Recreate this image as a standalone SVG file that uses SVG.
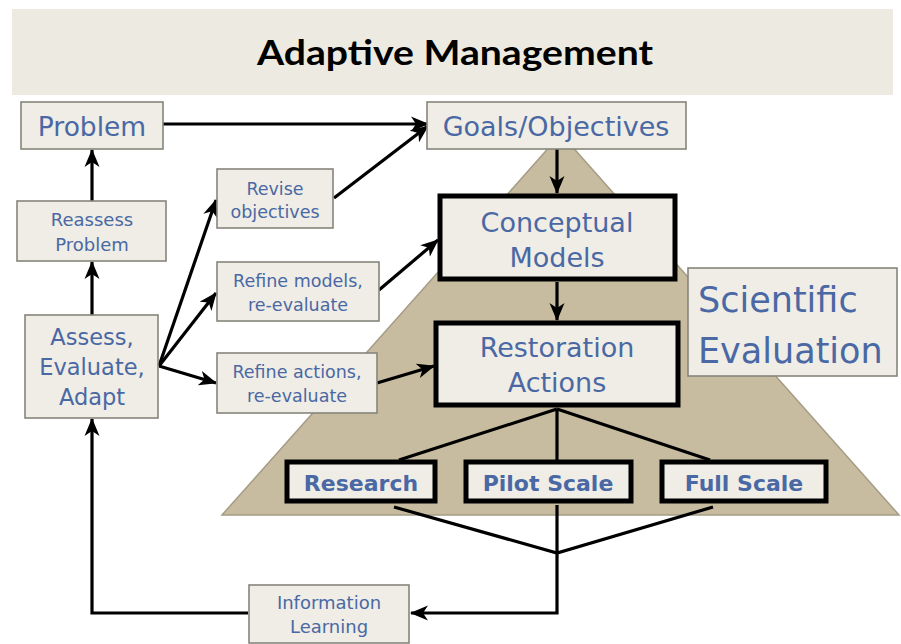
<svg xmlns="http://www.w3.org/2000/svg" width="901" height="644" viewBox="0 0 901 644">
<defs>
<marker id="ah" markerUnits="userSpaceOnUse" markerWidth="20" markerHeight="16" refX="17" refY="8" orient="auto">
<path d="M0,0.5 L18,8 L0,15.5 L5,8 z" fill="#000"/>
</marker>
<style>
.box{fill:#efede5;stroke:#85857c;stroke-width:1.6}
.tbox{fill:#efede5;stroke:#000;stroke-width:5}
.t{font-family:"DejaVu Sans",Verdana,sans-serif;fill:#4a68a4;text-anchor:middle}
.b{font-weight:bold;font-size:22px}
.c{fill:none;stroke:#000;stroke-width:3.2}
.ca{fill:none;stroke:#000;stroke-width:3.2;marker-end:url(#ah)}
</style>
</defs>
<rect width="901" height="644" fill="#ffffff"/>
<rect x="12" y="9" width="881" height="86" fill="#edeae2"/>
<text x="455" y="65" font-family="Lato,'Liberation Sans',sans-serif" font-weight="bold" font-size="35" fill="#000" text-anchor="middle" textLength="396" lengthAdjust="spacingAndGlyphs">Adaptive Management</text>
<polygon id="pyramid" points="561,134 899,515 222,515" fill="#c7bc9f" stroke="#a59c86" stroke-width="1.5"/>
<g id="connectors">
<line class="ca" x1="163" y1="124" x2="428" y2="124"/>
<line class="ca" x1="334" y1="198" x2="428" y2="126"/>
<line class="ca" x1="379" y1="290" x2="438" y2="240"/>
<line class="ca" x1="377" y1="383" x2="434" y2="366"/>
<line class="ca" x1="159" y1="366" x2="216" y2="200"/>
<line class="ca" x1="159" y1="366" x2="216" y2="293"/>
<line class="ca" x1="159" y1="366" x2="216" y2="383"/>
<line class="ca" x1="92" y1="201" x2="92" y2="150"/>
<line class="ca" x1="92" y1="315" x2="92" y2="262"/>
<line class="ca" x1="557" y1="149" x2="557" y2="193"/>
<line class="ca" x1="557" y1="282" x2="557" y2="320"/>
<path class="c" d="M557,409 L399,460 M557,409 L557,460 M557,409 L710,460"/>
<path class="c" d="M394,507 L557,553 L713,507 M557,505 L557,553"/>
<path class="ca" d="M557,553 L557,613 L411,613"/>
<path class="ca" d="M248,613 L92,613 L92,419"/>
</g>
<g id="problem"><rect class="box" x="21" y="102" width="142" height="47"/><text class="t" x="92" y="136" font-size="26.5">Problem</text></g>
<g id="goals"><rect class="box" x="427" y="102" width="259" height="47"/><text class="t" x="556" y="136" font-size="27">Goals/Objectives</text></g>
<g id="reassess"><rect class="box" x="17" y="201" width="149" height="60"/><text class="t" x="92" y="226" font-size="18">Reassess</text><text class="t" x="92" y="251" font-size="18">Problem</text></g>
<g id="assess"><rect class="box" x="25" y="315" width="133" height="103"/><text class="t" x="92" y="345" font-size="22.5">Assess,</text><text class="t" x="92" y="375" font-size="22.5">Evaluate,</text><text class="t" x="92" y="405" font-size="22.5">Adapt</text></g>
<g id="revise"><rect class="box" x="217" y="169" width="116" height="59"/><text class="t" x="275" y="195" font-size="17.5">Revise</text><text class="t" x="275" y="218" font-size="17.5">objectives</text></g>
<g id="refine-models"><rect class="box" x="217" y="262" width="162" height="59"/><text class="t" x="298" y="287" font-size="17.5">Refine models,</text><text class="t" x="298" y="311" font-size="17.5">re-evaluate</text></g>
<g id="refine-actions"><rect class="box" x="217" y="353" width="160" height="60"/><text class="t" x="297" y="378" font-size="17.5">Refine actions,</text><text class="t" x="297" y="402" font-size="17.5">re-evaluate</text></g>
<g id="conceptual"><rect class="tbox" x="440" y="196" width="235" height="83"/><text class="t" x="557" y="232" font-size="27">Conceptual</text><text class="t" x="557" y="267" font-size="27">Models</text></g>
<g id="restoration"><rect class="tbox" x="436" y="323" width="242" height="82"/><text class="t" x="557" y="357" font-size="27">Restoration</text><text class="t" x="557" y="392" font-size="27">Actions</text></g>
<g id="scientific"><rect class="box" x="688" y="268" width="209" height="108"/><text class="t" x="698" y="312" font-size="35" style="text-anchor:start">Scientific</text><text class="t" x="698" y="363" font-size="35" style="text-anchor:start">Evaluation</text></g>
<g id="research"><rect class="tbox" x="287" y="462" width="148" height="39"/><text class="t b" x="361" y="491">Research</text></g>
<g id="pilot"><rect class="tbox" x="466" y="462" width="165" height="39"/><text class="t b" x="548" y="491">Pilot Scale</text></g>
<g id="full"><rect class="tbox" x="662" y="462" width="164" height="39"/><text class="t b" x="744" y="491">Full Scale</text></g>
<g id="info"><rect class="box" x="249" y="585" width="160" height="58"/><text class="t" x="329" y="609" font-size="18">Information</text><text class="t" x="329" y="633" font-size="18">Learning</text></g>
</svg>
